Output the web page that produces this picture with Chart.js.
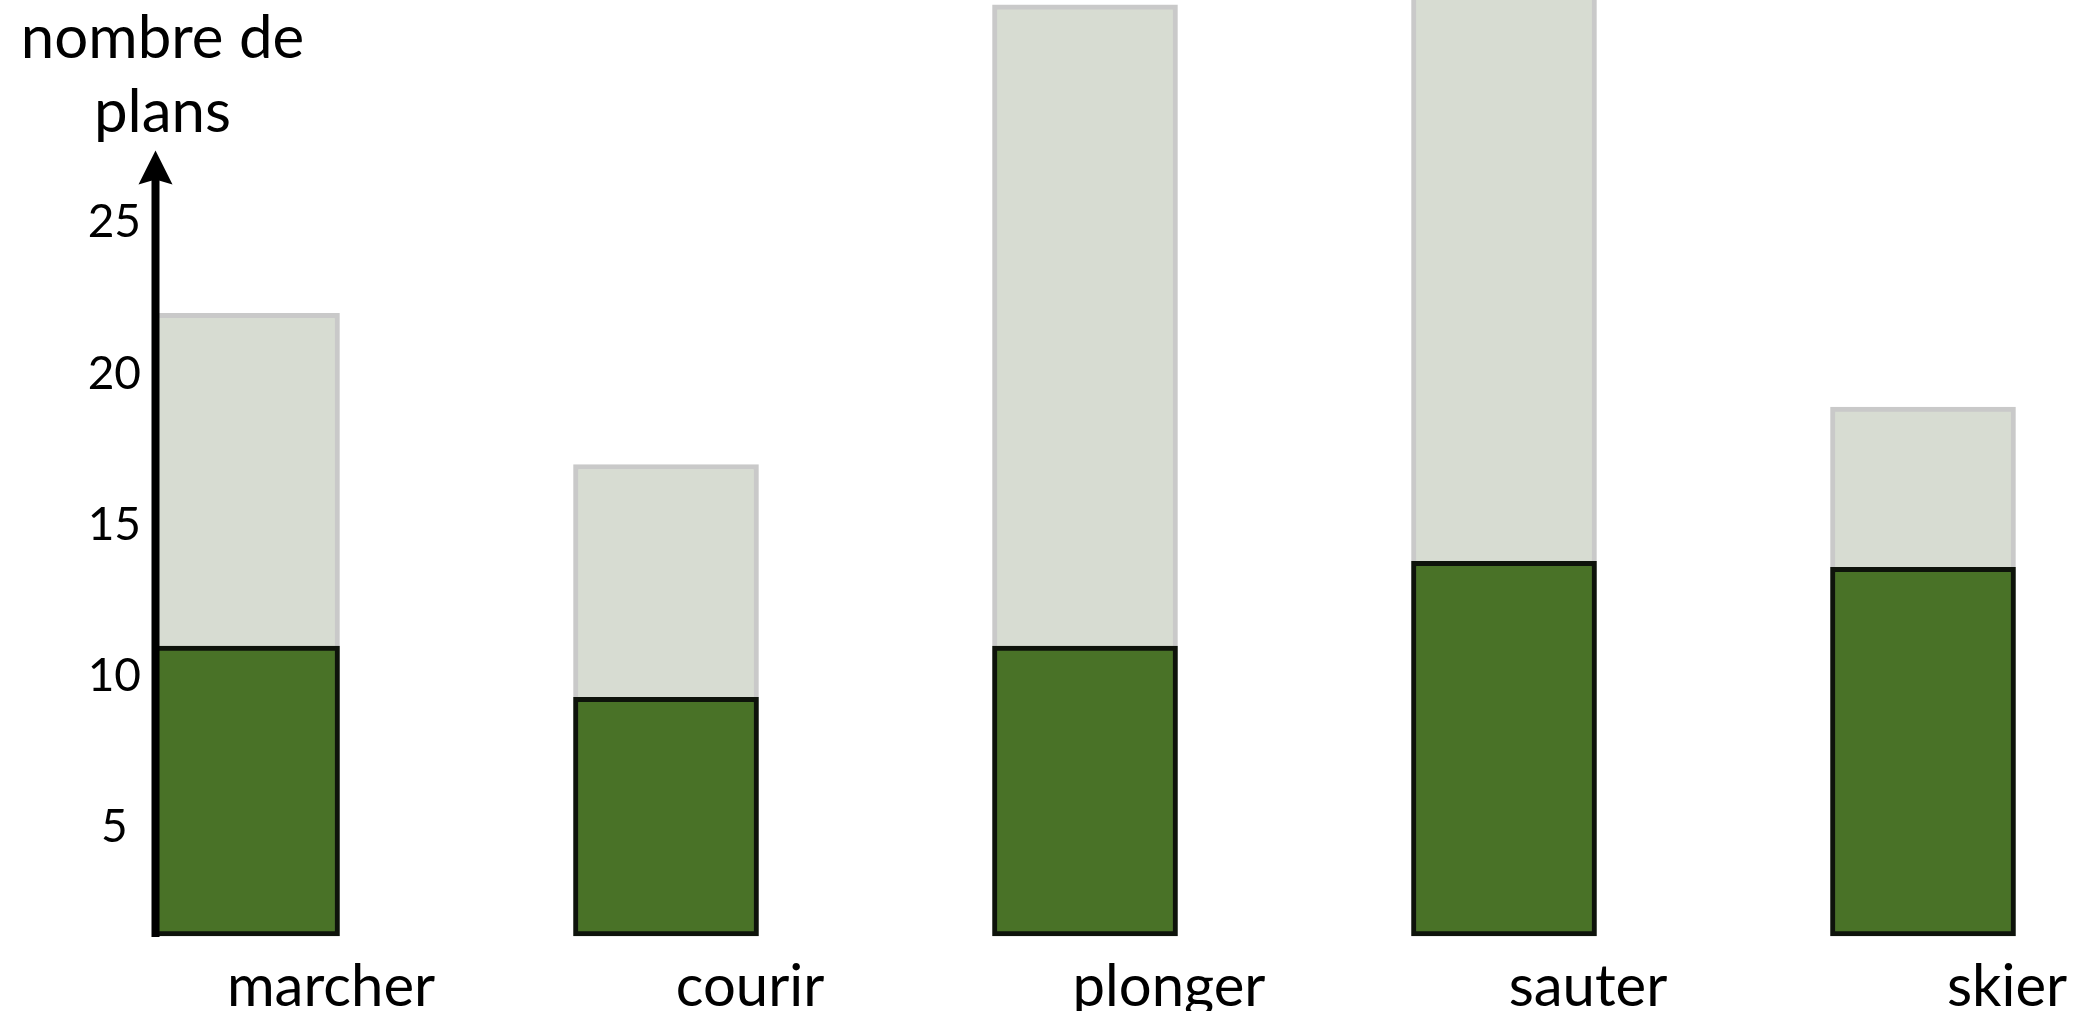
<!DOCTYPE html>
<html>
<head>
<meta charset="utf-8">
<script src="https://cdn.jsdelivr.net/npm/chart.js@4/dist/chart.umd.min.js"></script>
<style>
  html, body { margin: 0; padding: 0; background: #ffffff; }
  #wrap { position: relative; width: 2089px; height: 1011px; }
</style>
</head>
<body>
<div id="wrap"><canvas id="c"></canvas></div>
<script>
// ---- data ----
const categories = ['marcher', 'courir', 'plonger', 'sauter', 'skier'];
const totalPlans = [22, 17, 32.2, 33.5, 18.9];     // light grey bars
const selectedPlans = [11, 9.3, 11, 13.8, 13.6];   // dark green bars
const yTickValues = [5, 10, 15, 20, 25];
const yAxisTitle = ['nombre de', 'plans'];

// ---- axis range (the drawn axis starts a little above 0) ----
const Y_MIN = 1.41;
const Y_MAX = 32.36;

// ---- styles ----
const FONT = 'Lato, "Open Sans", "Noto Sans", sans-serif';
const GREEN = '#497227';
const GREEN_BORDER = '#0e130b';
const GREY = '#d7dcd2';
const GREY_BORDER = '#c9c9c9';
const BAR_W = 185;

const arrowAxisPlugin = {
  id: 'arrowAxis',
  afterDatasetsDraw(chart) {
    const ctx = chart.ctx;
    const xs = chart.scales.x, ys = chart.scales.y;
    const x = xs.getPixelForTick(0) - BAR_W / 2 + 1;
    const bottom = chart.chartArea.bottom + 1;
    const tip = ys.getPixelForValue(yTickValues[yTickValues.length - 1]) - 72;
    ctx.save();
    ctx.strokeStyle = '#000';
    ctx.fillStyle = '#000';
    ctx.lineWidth = 8;
    ctx.beginPath();
    ctx.moveTo(x, bottom);
    ctx.lineTo(x, tip + 28);
    ctx.stroke();
    ctx.beginPath();
    ctx.moveTo(x, tip);
    ctx.lineTo(x + 17, tip + 34);
    ctx.lineTo(x, tip + 29);
    ctx.lineTo(x - 17, tip + 34);
    ctx.closePath();
    ctx.fill();
    // axis title, two centred lines above the arrow
    ctx.font = '60px ' + FONT;
    ctx.textAlign = 'center';
    ctx.textBaseline = 'alphabetic';
    ctx.fillText(yAxisTitle[0], x + 7, 58);
    ctx.fillText(yAxisTitle[1], x + 7, 132);
    ctx.restore();
  }
};

function build() {
  new Chart(document.getElementById('c'), {
    type: 'bar',
    data: {
      labels: categories,
      datasets: [
        {
          label: 'plans retenus',
          data: selectedPlans,
          base: Y_MIN,
          backgroundColor: GREEN,
          borderColor: GREEN_BORDER,
          borderWidth: 5,
          borderSkipped: false,
          barThickness: BAR_W,
          grouped: false,
          clip: false,
          order: 0
        },
        {
          label: 'plans',
          data: totalPlans,
          base: Y_MIN,
          backgroundColor: GREY,
          borderColor: GREY_BORDER,
          borderWidth: 5,
          borderSkipped: false,
          barThickness: BAR_W,
          grouped: false,
          clip: false,
          order: 1
        }
      ]
    },
    options: {
      responsive: true,
      maintainAspectRatio: false,
      devicePixelRatio: 1,
      animation: false,
      layout: { padding: { left: 0, right: 166, top: 0, bottom: 0 } },
      plugins: {
        legend: { display: false },
        tooltip: { enabled: false },
        title: { display: false }
      },
      scales: {
        x: {
          offset: false,
          grid: { display: false, drawTicks: false },
          border: { display: false },
          ticks: {
            color: '#000',
            font: { family: FONT, size: 58 },
            padding: 16,
            labelOffset: 84,
            maxRotation: 0,
            autoSkip: false
          },
          afterFit(scale) {
            scale.height = 75;
            scale.paddingLeft = 0;
            scale.paddingRight = 0;
          }
        },
        y: {
          min: Y_MIN,
          max: Y_MAX,
          grid: { display: false, drawTicks: false },
          border: { display: false },
          ticks: {
            color: '#000',
            font: { family: FONT, size: 46 },
            crossAlign: 'center',
            padding: 106
          },
          afterBuildTicks(scale) {
            scale.ticks = yTickValues.map(v => ({ value: v }));
          },
          afterFit(scale) {
            scale.width = 247;
            scale.paddingTop = 0;
            scale.paddingBottom = 0;
          }
        }
      }
    },
    plugins: [arrowAxisPlugin]
  });
}

if (document.fonts && document.fonts.load) {
  Promise.all([document.fonts.load('58px Lato'), document.fonts.load('46px Lato')])
    .then(build, build);
} else {
  build();
}
</script>
</body>
</html>
